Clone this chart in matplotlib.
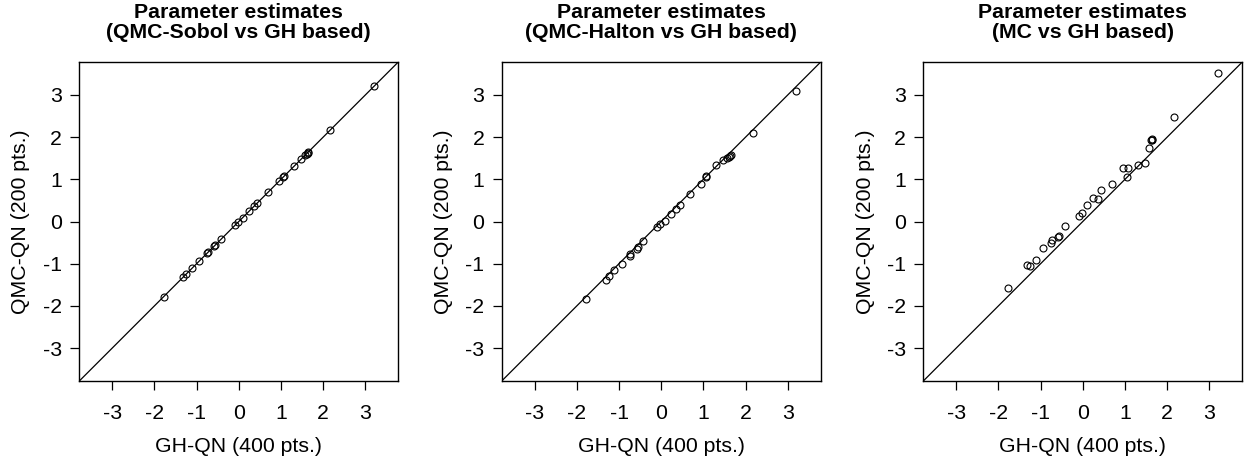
import matplotlib.pyplot as plt
import numpy as np

plt.rcParams['font.family'] = ['Liberation Sans', 'DejaVu Sans']

# GH-QN (400 pts.) estimates, shared x for all panels
gh = [3.20, 2.17, 1.65, 1.63, 1.61, 1.57, 1.47, 1.31, 1.07, 1.05, 0.95, 0.69,
      0.44, 0.36, 0.24, 0.09, -0.02, -0.09, -0.42, -0.56, -0.58, -0.73, -0.75,
      -0.94, -1.11, -1.24, -1.32, -1.78]

# QMC-QN (200 pts.) estimates per method
sobol = [3.20, 2.17, 1.65, 1.63, 1.61, 1.58, 1.47, 1.31, 1.07, 1.05, 0.95, 0.69,
         0.44, 0.36, 0.24, 0.09, -0.02, -0.09, -0.42, -0.56, -0.58, -0.73, -0.75,
         -0.94, -1.11, -1.24, -1.32, -1.78]
halton = [3.10, 2.09, 1.57, 1.55, 1.52, 1.50, 1.46, 1.35, 1.09, 1.05, 0.89, 0.65,
          0.38, 0.30, 0.18, 0.02, -0.07, -0.13, -0.47, -0.61, -0.64, -0.77, -0.81,
          -1.01, -1.16, -1.30, -1.39, -1.84]
mc = [3.52, 2.47, 1.95, 1.94, 1.93, 1.74, 1.38, 1.35, 1.26, 1.05, 1.27, 0.90,
      0.75, 0.54, 0.56, 0.39, 0.19, 0.12, -0.10, -0.35, -0.37, -0.43, -0.51,
      -0.63, -0.91, -1.05, -1.02, -1.57]

titles = ['Parameter estimates\n(QMC-Sobol vs GH based)',
          'Parameter estimates\n(QMC-Halton vs GH based)',
          'Parameter estimates\n(MC vs GH based)']
series = [sobol, halton, mc]
ticks = [-3, -2, -1, 0, 1, 2, 3]
lim = 3.78
fs = 15.3

W, H = 1247, 462
fig = plt.figure(figsize=(W / 100, H / 100), dpi=100)

lefts = [79.3, 501.7, 923.3]
for left, title, vals in zip(lefts, titles, series):
    ax = fig.add_axes([left / W, (H - 381) / H, 319 / W, 319 / H])
    ax.plot(gh, vals, 'o', mfc='none', mec='black', ms=5.0, mew=0.8)
    ax.axline((0, 0), slope=1, color='black', lw=0.9)
    ax.set_xlim(-lim, lim)
    ax.set_ylim(-lim, lim)
    ax.set_xticks(ticks)
    ax.set_yticks(ticks)
    ax.set_xticklabels([str(t) for t in ticks])
    ax.set_yticklabels([str(t) for t in ticks])
    ax.tick_params(direction='out', length=6.5, width=0.9, labelsize=fs,
                   colors='black')
    ax.tick_params(axis='x', pad=10)
    ax.tick_params(axis='y', pad=6)
    for s in ax.spines.values():
        s.set_linewidth(1.0)
    ax.set_xlabel('GH-QN (400 pts.)', fontsize=fs)
    ax.set_ylabel('QMC-QN (200 pts.)', fontsize=fs)
    ax.xaxis.set_label_coords(0.5, (381 - 437) / 319)
    ax.yaxis.set_label_coords((30.5 - 79.3) / 319, 0.5)
    ax.text(0.5, (381 - 22.5) / 319, title, transform=ax.transAxes,
            ha='center', va='center', fontsize=fs, fontweight='bold',
            linespacing=1.1)

fig.savefig('out.png', dpi=100)
